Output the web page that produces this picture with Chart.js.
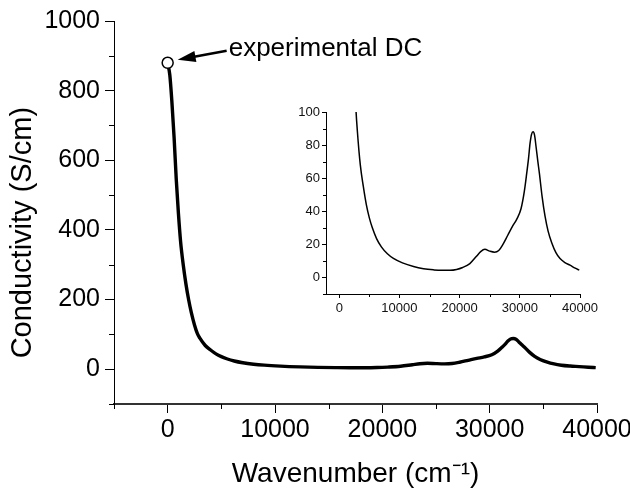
<!DOCTYPE html>
<html>
<head>
<meta charset="utf-8">
<script src="https://cdn.jsdelivr.net/npm/chart.js@4"></script>
<style>
  html, body { margin: 0; padding: 0; background: #fff; }
  #wrap { position: relative; width: 630px; height: 492px; }
  #main { position: absolute; left: 0; top: 0; }
  #inset { position: absolute; left: 290px; top: 95px; }
</style>
</head>
<body>
<div id="wrap">
  <canvas id="main" width="630" height="492"></canvas>
  <canvas id="inset" width="320" height="235"></canvas>
</div>
<script>
// ---- data ----
const wavenumber = [0, 200, 400, 600, 800, 1000, 1200, 1450, 1700, 1950, 2200, 2500, 2770, 3000, 3500, 4000, 4500, 5000, 5500, 6200, 7000, 8000, 9000, 10500, 12340, 14000, 15650, 17000, 18400, 19500, 20500, 21700, 22800, 23500, 24200, 25000, 25800, 26500, 27200, 28000, 28800, 29500, 30200, 30750, 31150, 31450, 31700, 31950, 32200, 32450, 32700, 33000, 33250, 33700, 34190, 34700, 35300, 36000, 36680, 37500, 38340, 39200, 39880];
const conductivity = [880, 845, 765, 665, 545, 448, 368, 300, 245, 200, 163, 127, 102, 89, 68, 55, 44, 36, 30, 23.5, 18.5, 14.3, 11.5, 8.8, 6.6, 5.3, 4.6, 4.3, 4.3, 4.8, 6, 8.4, 12.8, 15.6, 17, 15.9, 15.3, 16.3, 20, 25.5, 31, 35.3, 41.5, 52, 63, 72, 81, 86.5, 88, 86, 79, 70, 63, 49, 37, 28, 21, 15, 11.4, 9, 7.4, 5.6, 4.4];
const dcWavenumber = [0];
const dcConductivity = [880];
const dcLabel = "experimental DC";

const mainXTicks = [0, 10000, 20000, 30000, 40000];
const mainXMinor = [-5000, 5000, 15000, 25000, 35000];
const mainYTicks = [0, 200, 400, 600, 800, 1000];
const mainYMinor = [-100, 100, 300, 500, 700, 900];
const insetXTicks = [0, 10000, 20000, 30000, 40000];
const insetXMinor = [5000, 15000, 25000, 35000];
const insetYTicks = [0, 20, 40, 60, 80, 100];
const insetYMinor = [-10, 10, 30, 50, 70, 90];

const points = wavenumber.map((x, i) => ({ x, y: conductivity[i] }));
const dcPoints = dcWavenumber.map((x, i) => ({ x, y: dcConductivity[i] }));

const FONT = "'Liberation Sans', Arial, sans-serif";
const plain = v => String(v);

const minorTicks = {
  id: 'minorTicks',
  afterDraw(chart, args, opts) {
    const ctx = chart.ctx;
    ctx.save();
    ctx.strokeStyle = opts.color;
    ctx.lineWidth = opts.width;
    for (const id of Object.keys(opts.ticks)) {
      const s = chart.scales[id];
      for (const v of opts.ticks[id]) {
        const p = Math.round(s.getPixelForValue(v)) + 0.5;
        ctx.beginPath();
        if (s.isHorizontal()) { ctx.moveTo(p, s.top); ctx.lineTo(p, s.top + opts.len); }
        else { ctx.moveTo(s.right, p); ctx.lineTo(s.right - opts.len, p); }
        ctx.stroke();
      }
    }
    ctx.restore();
  }
};

const dcNote = {
  id: 'dcNote',
  afterDatasetsDraw(chart, args, opts) {
    if (!opts.text) return;
    const ctx = chart.ctx;
    const px = chart.scales.x.getPixelForValue(dcWavenumber[0]);
    const py = chart.scales.y.getPixelForValue(dcConductivity[0]);
    const tipX = px + 10, tipY = py - 3;
    const tailX = px + 59, tailY = py - 12;
    const ang = Math.atan2(tipY - tailY, tipX - tailX);
    ctx.save();
    ctx.strokeStyle = '#000';
    ctx.fillStyle = '#000';
    ctx.lineWidth = 2.5;
    ctx.beginPath();
    ctx.moveTo(tailX, tailY);
    ctx.lineTo(tipX - 14 * Math.cos(ang), tipY - 14 * Math.sin(ang));
    ctx.stroke();
    const hl = 18, hw = 5.5;
    const bx = tipX - hl * Math.cos(ang), by = tipY - hl * Math.sin(ang);
    ctx.beginPath();
    ctx.moveTo(tipX, tipY);
    ctx.lineTo(bx + hw * Math.sin(ang), by - hw * Math.cos(ang));
    ctx.lineTo(bx - hw * Math.sin(ang), by + hw * Math.cos(ang));
    ctx.closePath();
    ctx.fill();
    ctx.font = "26px " + FONT;
    ctx.textBaseline = 'middle';
    ctx.textAlign = 'left';
    ctx.fillText(opts.text, tailX + 2, py - 14);
    ctx.restore();
  }
};

function fixedBox(w, h) {
  return function (s) {
    if (w !== null) s.width = w;
    if (h !== null) s.height = h;
    s.paddingLeft = 0; s.paddingRight = 0; s.paddingTop = 0; s.paddingBottom = 0;
  };
}

new Chart(document.getElementById('main'), {
  type: 'line',
  data: {
    datasets: [
      { data: points, borderColor: '#000', borderWidth: 3.4, pointRadius: 0, cubicInterpolationMode: 'monotone', fill: false, order: 2 },
      { data: dcPoints, showLine: false, pointRadius: 5.5, pointBackgroundColor: '#fff', pointBorderColor: '#000', pointBorderWidth: 1.5, order: 1 }
    ]
  },
  options: {
    responsive: false, animation: false, events: [],
    layout: { padding: { top: 21, right: 33, left: 0, bottom: 0 } },
    plugins: {
      legend: { display: false }, tooltip: { enabled: false },
      minorTicks: { ticks: { x: mainXMinor, y: mainYMinor }, len: 5, color: '#000', width: 1 },
      dcNote: { text: dcLabel }
    },
    scales: {
      x: {
        type: 'linear', min: -5000, max: 40000,
        afterBuildTicks: s => { s.ticks = mainXTicks.map(v => ({ value: v })); },
        afterFit: fixedBox(null, 88),
        grid: { drawOnChartArea: false, tickLength: 9, color: '#000', tickWidth: 1 },
        border: { display: true, color: '#333', width: 2 },
        ticks: { font: { family: FONT, size: 25 }, color: '#000', padding: 2, maxRotation: 0, autoSkip: false, callback: plain },
        title: { display: true, text: 'Wavenumber (cm\u207B\u00B9)', font: { family: FONT, size: 28 }, color: '#000', padding: { top: 0, bottom: 1 } }
      },
      y: {
        type: 'linear', min: -100, max: 1000,
        afterBuildTicks: s => { s.ticks = mainYTicks.map(v => ({ value: v })); },
        afterFit: fixedBox(114, null),
        grid: { drawOnChartArea: false, tickLength: 9, color: '#000', tickWidth: 1 },
        border: { display: true, color: '#000', width: 1 },
        ticks: { font: { family: FONT, size: 25 }, color: '#000', padding: 5, autoSkip: false, callback: plain },
        title: { display: true, text: 'Conductivity (S/cm)\u00A0\u00A0\u00A0\u00A0\u00A0', font: { family: FONT, size: 29 }, color: '#000', padding: { top: 6, bottom: 0 } }
      }
    }
  },
  plugins: [minorTicks, dcNote]
});

new Chart(document.getElementById('inset'), {
  type: 'line',
  data: {
    datasets: [
      { data: points, borderColor: '#000', borderWidth: 1.5, pointRadius: 0, cubicInterpolationMode: 'monotone', fill: false }
    ]
  },
  options: {
    responsive: false, animation: false, events: [],
    layout: { padding: { top: 17, right: 30, left: 0, bottom: 0 } },
    plugins: {
      legend: { display: false }, tooltip: { enabled: false },
      minorTicks: { ticks: { x: insetXMinor, y: insetYMinor }, len: 3, color: '#000', width: 1 }
    },
    scales: {
      x: {
        type: 'linear', min: -2200, max: 40000,
        afterBuildTicks: s => { s.ticks = insetXTicks.map(v => ({ value: v })); },
        afterFit: fixedBox(null, 36),
        grid: { drawOnChartArea: false, tickLength: 4, color: '#000', tickWidth: 1 },
        border: { display: true, color: '#000', width: 1 },
        ticks: { font: { family: FONT, size: 13 }, color: '#111', padding: 3, maxRotation: 0, autoSkip: false, callback: plain }
      },
      y: {
        type: 'linear', min: -10, max: 100,
        afterBuildTicks: s => { s.ticks = insetYTicks.map(v => ({ value: v })); },
        afterFit: fixedBox(36, null),
        grid: { drawOnChartArea: false, tickLength: 4, color: '#000', tickWidth: 1 },
        border: { display: true, color: '#000', width: 1 },
        ticks: { font: { family: FONT, size: 13 }, color: '#111', padding: 2, autoSkip: false, callback: plain }
      }
    }
  },
  plugins: [minorTicks]
});
</script>
</body>
</html>
